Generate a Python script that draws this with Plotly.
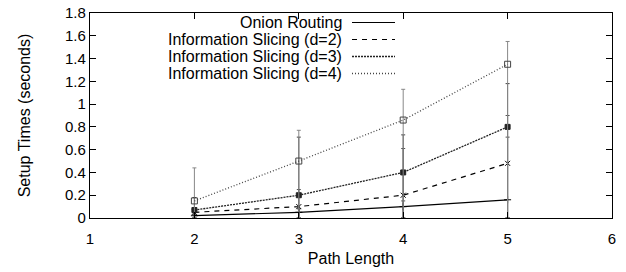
import plotly.graph_objects as go

path_length = [2, 3, 4, 5]
series_names = ["Onion Routing", "Information Slicing (d=2)",
                "Information Slicing (d=3)", "Information Slicing (d=4)"]
onion = [0.02, 0.05, 0.10, 0.16]
slicing_d2 = [0.05, 0.10, 0.20, 0.48]
slicing_d3 = [0.07, 0.20, 0.40, 0.80]
slicing_d4 = [0.15, 0.50, 0.86, 1.35]
# upper ends of the error bars
onion_hi = [0.03, 0.08, 0.15, 0.71]
d2_hi = [0.08, 0.25, 0.61, 0.90]
d3_hi = [0.18, 0.71, 0.73, 1.18]
d4_hi = [0.44, 0.77, 1.13, 1.55]
# lower ends of the error bars
onion_lo = [0.0, 0.0, 0.0, 0.0]
d2_lo = [0.0, 0.0, 0.0, 0.0]
d3_lo = [0.0, 0.0, 0.0, 0.0]
d4_lo = [0.0, 0.0, 0.0, 0.0]

x_ticks = [1, 2, 3, 4, 5, 6]
y_ticks = [0, 0.2, 0.4, 0.6, 0.8, 1, 1.2, 1.4, 1.6, 1.8]

values = [onion, slicing_d2, slicing_d3, slicing_d4]
his = [onion_hi, d2_hi, d3_hi, d4_hi]
los = [onion_lo, d2_lo, d3_lo, d4_lo]
styles = [
    dict(color="black", dash="solid", width=1.2, symbol="cross-thin", msize=5, ecolor="#555"),
    dict(color="black", dash="5px,5px", width=1.2, symbol="x-thin", msize=5, ecolor="#555"),
    dict(color="#222", dash="2px,1px", width=1.3, symbol="square", msize=5, ecolor="#444"),
    dict(color="#444", dash="1px,2px", width=1.3, symbol="square-open", msize=6, ecolor="#888"),
]

fig = go.Figure()
for name, v, hi, lo, st in zip(series_names, values, his, los, styles):
    fig.add_trace(go.Scatter(
        x=path_length, y=v, name=name, mode="lines+markers",
        line=dict(color=st["color"], dash=st["dash"], width=st["width"]),
        marker=dict(symbol=st["symbol"], size=st["msize"], color=st["color"],
                    line=dict(color=st["color"], width=1)),
        error_y=dict(type="data", symmetric=False,
                     array=[h - a for h, a in zip(hi, v)],
                     arrayminus=[a - l for a, l in zip(v, lo)],
                     color=st["ecolor"], thickness=1, width=2),
        showlegend=False,
    ))

W, H = 626, 272
PL, PR, PT, PB = 90, 612, 13, 218  # plot box in pixels
def px_x(px):
    return (px - PL) / (PR - PL)
def px_y(py):
    return 1 - (py - PT) / (PB - PT)

# legend drawn gnuplot-style: text right-aligned, line sample on the right
row_y = [22.5, 39.5, 56.5, 73.5]
for name, st, ry in zip(series_names, styles, row_y):
    yp = px_y(ry)
    fig.add_annotation(xref="paper", yref="paper", x=px_x(343), y=yp, text=name,
                       showarrow=False, xanchor="right", yanchor="middle",
                       borderpad=0, font=dict(size=16, color="black"))
    fig.add_shape(type="line", xref="paper", yref="paper",
                  x0=px_x(352), x1=px_x(395), y0=yp, y1=yp,
                  line=dict(color=st["color"], dash=st["dash"], width=st["width"]))

axis_common = dict(showgrid=False, zeroline=False, showline=True, linecolor="black",
                   linewidth=1.2, mirror="ticks", ticks="inside", ticklen=6,
                   tickcolor="black", tickfont=dict(size=15, color="black"),
                   ticklabeloverflow="allow", automargin=False)
fig.update_xaxes(range=[1, 6], tickvals=x_ticks, ticktext=[str(t) for t in x_ticks],
                 ticklabelstandoff=7,
                 title=dict(text="Path Length", font=dict(size=16, color="black"), standoff=6),
                 **axis_common)
fig.update_yaxes(range=[0, 1.8], tickvals=y_ticks, ticktext=[f"{t:g}" for t in y_ticks],
                 title=dict(text="Setup Times (seconds)", font=dict(size=16, color="black"), standoff=30),
                 **axis_common)
fig.update_layout(width=W, height=H,
                  margin=dict(l=PL, r=W - PR, t=PT, b=H - PB),
                  plot_bgcolor="white", paper_bgcolor="white",
                  font=dict(family="Liberation Sans, Arial, sans-serif", size=15, color="black"))
fig.write_html("out.html", config={"displayModeBar": False},
               post_script=("document.documentElement.style.overflow='hidden';"
                            "document.body.style.overflow='hidden';"
                            "document.body.style.margin='0';"))
